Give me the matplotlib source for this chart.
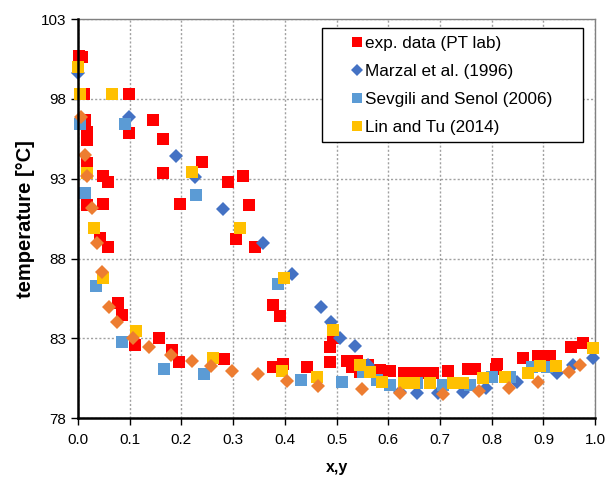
import matplotlib
matplotlib.use("Agg")
import matplotlib.pyplot as plt
from matplotlib.ticker import MultipleLocator, FormatStrFormatter
from matplotlib.patches import Rectangle

plt.rcParams['font.family'] = ['Liberation Sans', 'DejaVu Sans']

# exp. data (PT lab)
exp_x = [0.003, 0.008, 0.012, 0.099, 0.145, 0.014, 0.017, 0.017, 0.099, 0.164,
         0.017, 0.048, 0.058, 0.164, 0.24, 0.29, 0.319, 0.017, 0.048, 0.197,
         0.331, 0.043, 0.058, 0.306, 0.342, 0.077, 0.085, 0.157, 0.11, 0.182,
         0.196, 0.282, 0.377, 0.39, 0.377, 0.396, 0.443, 0.493, 0.487, 0.487,
         0.52, 0.53, 0.54, 0.545, 0.56, 0.584, 0.603, 0.63, 0.65, 0.67,
         0.687, 0.716, 0.754, 0.768, 0.81, 0.808, 0.861, 0.89, 0.913, 0.954, 0.977]
exp_t = [100.7, 100.6, 98.3, 98.3, 96.7, 96.7, 95.9, 95.4, 95.85, 95.5,
         94.0, 93.2, 92.8, 93.35, 94.05, 92.8, 93.15, 91.35, 91.4, 91.4,
         91.35, 89.3, 88.7, 89.2, 88.7, 85.2, 84.45, 83.05, 82.6, 82.3,
         81.5, 81.7, 85.1, 84.4, 81.2, 81.4, 81.2, 83.0, 82.45, 81.5,
         81.6, 81.2, 81.6, 80.9, 81.3, 81.0, 80.95, 80.8, 80.8, 80.8,
         80.8, 80.95, 81.05, 81.05, 81.4, 81.1, 81.75, 81.9, 81.9, 82.45, 82.7]

# Marzal et al. (1996)
marzal_x = [0.0, 0.099, 0.19, 0.226, 0.28, 0.358, 0.414, 0.47, 0.489, 0.507,
            0.536, 0.56, 0.623, 0.656, 0.696, 0.745, 0.789, 0.849, 0.926, 0.957, 0.996]
marzal_t = [99.6, 96.9, 94.4, 93.1, 91.1, 89.0, 87.05, 84.95, 84.0, 83.05,
            82.5, 81.3, 79.65, 79.55, 79.55, 79.65, 79.9, 80.25, 80.8, 81.3, 81.75]

# Sevgili and Senol (2006)
sevgili_x = [0.004, 0.091, 0.014, 0.228, 0.035, 0.387, 0.085, 0.166, 0.244, 0.431,
             0.511, 0.551, 0.578, 0.603, 0.63, 0.656, 0.706, 0.758, 0.80, 0.836,
             0.878, 0.907]
sevgili_t = [96.4, 96.4, 92.1, 92.0, 86.3, 86.4, 82.75, 81.1, 80.75, 80.4,
             80.25, 80.9, 80.4, 80.1, 80.2, 80.2, 80.1, 80.1, 80.6, 80.6,
             81.2, 81.2]

# Lin and Tu (2014)
lin_x = [0.0, 0.004, 0.066, 0.017, 0.22, 0.031, 0.313, 0.048, 0.398, 0.112,
         0.493, 0.261, 0.395, 0.462, 0.545, 0.565, 0.588, 0.63, 0.65, 0.68,
         0.725, 0.745, 0.783, 0.826, 0.87, 0.894, 0.925, 0.996]
lin_t = [100.0, 98.3, 98.3, 93.35, 93.4, 89.9, 89.9, 86.8, 86.8, 83.45,
         83.5, 81.8, 80.95, 80.6, 81.3, 80.9, 80.25, 80.2, 80.2, 80.2,
         80.2, 80.2, 80.5, 80.55, 80.8, 81.25, 81.25, 82.4]

# fifth series (no legend entry)
other_x = [0.006, 0.014, 0.017, 0.027, 0.037, 0.046, 0.06, 0.075, 0.106, 0.137,
           0.18, 0.22, 0.257, 0.298, 0.348, 0.404, 0.464, 0.549, 0.623, 0.706,
           0.776, 0.834, 0.89, 0.95, 0.971]
other_t = [96.9, 94.5, 93.2, 91.15, 89.0, 87.15, 84.95, 84.0, 83.05, 82.45,
           81.95, 81.6, 81.25, 80.95, 80.75, 80.3, 80.0, 79.8, 79.55, 79.5,
           79.7, 79.9, 80.25, 80.9, 81.3]

y_ticks = [78, 83, 88, 93, 98, 103]

fig = plt.figure(figsize=(6.08, 4.79), dpi=100)
ax = fig.add_axes([0.128, 0.127, 0.851, 0.833])

ms_sq = 9.2
ms_d = 7.4
kw = dict(mew=0, zorder=3, clip_on=False, linestyle='none')
ax.plot(exp_x, exp_t, 's', color='#FF0000', ms=ms_sq, label='exp. data (PT lab)', **kw)
ax.plot(marzal_x, marzal_t, 'D', color='#4472C4', ms=ms_d, label='Marzal et al. (1996)', **kw)
ax.plot(sevgili_x, sevgili_t, 's', color='#5B9BD5', ms=ms_sq, label='Sevgili and Senol (2006)', **kw)
ax.plot(lin_x, lin_t, 's', color='#FFC000', ms=ms_sq, label='Lin and Tu (2014)', **kw)
ax.plot(other_x, other_t, 'D', color='#ED7D31', ms=ms_d, label='_nolegend_', **kw)

ax.set_xlim(0, 1.0)
ax.set_ylim(78, 103)
ax.xaxis.set_major_locator(MultipleLocator(0.1))
ax.xaxis.set_major_formatter(FormatStrFormatter('%.1f'))
ax.set_yticks(y_ticks)
ax.grid(True, color='#a0a0a0', linestyle=(0, (1.5, 1.5)), linewidth=1.0, zorder=0)
ax.set_axisbelow(True)

for s in ['left', 'bottom']:
    ax.spines[s].set_color('black')
    ax.spines[s].set_linewidth(1.8)
    ax.spines[s].set_zorder(4)
for s in ['top', 'right']:
    ax.spines[s].set_color('#808080')
    ax.spines[s].set_linewidth(1.0)

ax.tick_params(axis='both', direction='out', length=5, width=1, labelsize=11, colors='black')
ax.tick_params(axis='x', pad=6)
ax.set_xlabel('x,y', fontsize=11.5, fontweight='bold', labelpad=9)
ax.set_ylabel('temperature [°C]', fontsize=14.5, fontweight='bold', labelpad=4)

# legend frame (fixed box like the reference)
frame = Rectangle((0.472, 0.692), 0.505, 0.285, transform=ax.transAxes,
                  facecolor='white', edgecolor='black', linewidth=1.0, zorder=5)
ax.add_patch(frame)
leg = ax.legend(loc='center left', bbox_to_anchor=(0.516, 0.834), fontsize=12.3,
                frameon=False, markerscale=0.8, handlelength=0.6, handletextpad=0.17,
                labelspacing=0.76, borderpad=0.4, borderaxespad=0)
leg.set_zorder(6)

fig.savefig('out.png', dpi=100)
